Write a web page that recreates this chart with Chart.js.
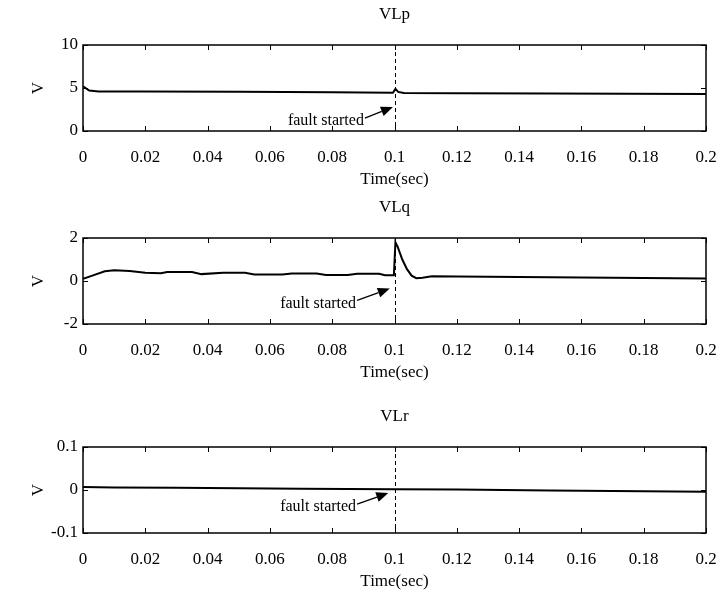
<!DOCTYPE html>
<html>
<head>
<meta charset="utf-8">
<script src="https://cdn.jsdelivr.net/npm/chart.js@4.4.1/dist/chart.umd.min.js"></script>
<style>
html, body { margin: 0; padding: 0; background: #fff; overflow: hidden; }
canvas { position: absolute; left: 0; }
</style>
</head>
<body>
<canvas id="plotP" width="723" height="193" style="top:0px"></canvas>
<canvas id="plotQ" width="723" height="209" style="top:193px"></canvas>
<canvas id="plotR" width="723" height="192" style="top:402px"></canvas>
<script>
// x axis (shared)
var xTickValues = [0, 0.02, 0.04, 0.06, 0.08, 0.1, 0.12, 0.14, 0.16, 0.18, 0.2];
var xTickLabels = ['0', '0.02', '0.04', '0.06', '0.08', '0.1', '0.12', '0.14', '0.16', '0.18', '0.2'];
var faultTime = 0.1;

// VLp
var timeP  = [0, 0.002, 0.005, 0.02, 0.05, 0.08, 0.0995, 0.1003, 0.1012, 0.103, 0.12, 0.15, 0.2];
var valueP = [5.2, 4.7, 4.6, 4.6, 4.55, 4.5, 4.45, 4.9, 4.55, 4.42, 4.4, 4.35, 4.3];
var yTicksP = [0, 5, 10];
var yLabelsP = ['0', '5', '10'];

// VLq
var timeQ  = [0, 0.003, 0.007, 0.01, 0.015, 0.02, 0.025, 0.027, 0.035, 0.038, 0.045, 0.052, 0.055, 0.064, 0.067, 0.075, 0.078, 0.085, 0.088, 0.095, 0.097, 0.0998,
              0.1003, 0.101, 0.1025, 0.104, 0.1055, 0.107, 0.109, 0.112, 0.12, 0.15, 0.2];
var valueQ = [0.1, 0.25, 0.45, 0.5, 0.47, 0.38, 0.36, 0.42, 0.42, 0.32, 0.38, 0.38, 0.3, 0.3, 0.35, 0.35, 0.28, 0.28, 0.34, 0.34, 0.27, 0.27,
              1.8, 1.6, 1.0, 0.55, 0.25, 0.13, 0.15, 0.22, 0.21, 0.18, 0.12];
var yTicksQ = [-2, 0, 2];
var yLabelsQ = ['-2', '0', '2'];

// VLr
var timeR  = [0, 0.01, 0.03, 0.05, 0.07, 0.1, 0.12, 0.15, 0.18, 0.2];
var valueR = [0.007, 0.006, 0.005, 0.004, 0.003, 0.002, 0.001, -0.001, -0.003, -0.004];
var yTicksR = [-0.1, 0, 0.1];
var yLabelsR = ['-0.1', '0', '0.1'];

var serif = '"Liberation Serif", "DejaVu Serif", serif';

// title over the plot box, box, inward ticks, fault line and the "fault started" arrow
var framePlugin = {
    id: 'frame',
    afterDatasetsDraw: function (chart, args, opts) {
        var ctx = chart.ctx;
        var a = chart.chartArea;
        var xs = chart.scales.x, ys = chart.scales.y;
        ctx.save();
        ctx.strokeStyle = '#000';
        ctx.fillStyle = '#000';

        ctx.font = '17px ' + serif;
        ctx.textAlign = 'center';
        ctx.textBaseline = 'middle';
        ctx.fillText(opts.title, (a.left + a.right) / 2, 15);

        ctx.lineWidth = 1.5;
        ctx.strokeRect(a.left, a.top, a.right - a.left, a.bottom - a.top);

        ctx.lineWidth = 1;
        ctx.beginPath();
        xs.ticks.forEach(function (t) {
            var px = Math.round(xs.getPixelForValue(t.value)) + 0.5;
            ctx.moveTo(px, a.bottom); ctx.lineTo(px, a.bottom - 5);
            ctx.moveTo(px, a.top); ctx.lineTo(px, a.top + 5);
        });
        ys.ticks.forEach(function (t) {
            var py = Math.round(ys.getPixelForValue(t.value)) + 0.5;
            ctx.moveTo(a.left, py); ctx.lineTo(a.left + 5, py);
            ctx.moveTo(a.right, py); ctx.lineTo(a.right - 5, py);
        });
        ctx.stroke();

        var fx = Math.round(xs.getPixelForValue(faultTime)) + 0.5;
        ctx.setLineDash([4, 3]);
        ctx.beginPath();
        ctx.moveTo(fx, a.top);
        ctx.lineTo(fx, a.bottom);
        ctx.stroke();
        ctx.setLineDash([]);

        var note = opts.note;
        var tx = xs.getPixelForValue(note.tip[0]), ty = ys.getPixelForValue(note.tip[1]);
        var sx = xs.getPixelForValue(note.tail[0]), sy = ys.getPixelForValue(note.tail[1]);
        var ang = Math.atan2(ty - sy, tx - sx);
        var hl = 12, hw = 5;
        var bx = tx - hl * Math.cos(ang), by = ty - hl * Math.sin(ang);
        ctx.lineWidth = 1.3;
        ctx.beginPath();
        ctx.moveTo(sx, sy);
        ctx.lineTo(bx, by);
        ctx.stroke();
        ctx.beginPath();
        ctx.moveTo(tx, ty);
        ctx.lineTo(bx + hw * Math.sin(ang), by - hw * Math.cos(ang));
        ctx.lineTo(bx - hw * Math.sin(ang), by + hw * Math.cos(ang));
        ctx.closePath();
        ctx.fill();

        ctx.font = '16px ' + serif;
        ctx.textAlign = 'right';
        ctx.textBaseline = 'middle';
        ctx.fillText('fault started', sx - 1, sy + 3);
        ctx.restore();
    }
};

function makePlot(canvasId, title, times, values, yTicks, yLabels, note) {
    var h = document.getElementById(canvasId).height;
    var pts = times.map(function (t, i) { return { x: t, y: values[i] }; });
    return new Chart(document.getElementById(canvasId).getContext('2d'), {
        type: 'line',
        data: {
            datasets: [{
                data: pts,
                borderColor: '#000',
                borderWidth: 2,
                pointRadius: 0,
                tension: 0,
                fill: false
            }]
        },
        plugins: [framePlugin],
        options: {
            responsive: false,
            animation: false,
            events: [],
            layout: { padding: { left: 0, right: 17, top: 45, bottom: 0 } },
            plugins: {
                legend: { display: false },
                tooltip: { enabled: false },
                title: { display: false },
                frame: { note: note, title: title }
            },
            scales: {
                x: {
                    type: 'linear',
                    min: 0,
                    max: 0.2,
                    grid: { display: false, drawTicks: false },
                    border: { display: false },
                    afterBuildTicks: function (s) {
                        s.ticks = xTickValues.map(function (v) { return { value: v }; });
                    },
                    afterFit: function (s) {
                        s.height = h - 131;
                        s.paddingLeft = 0;
                        s.paddingRight = 0;
                    },
                    ticks: {
                        color: '#000',
                        padding: 16,
                        maxRotation: 0,
                        autoSkip: false,
                        font: { family: serif, size: 17 },
                        callback: function (v, i) { return xTickLabels[i]; }
                    },
                    title: {
                        display: true,
                        text: 'Time(sec)',
                        color: '#000',
                        font: { family: serif, size: 17 },
                        padding: { top: 0, bottom: h - 190 }
                    }
                },
                y: {
                    type: 'linear',
                    min: yTicks[0],
                    max: yTicks[yTicks.length - 1],
                    grid: { display: false, drawTicks: false },
                    border: { display: false },
                    afterBuildTicks: function (s) {
                        s.ticks = yTicks.map(function (v) { return { value: v }; });
                    },
                    afterFit: function (s) { s.width = 83; },
                    ticks: {
                        color: '#000',
                        padding: 5,
                        font: { family: serif, size: 17 },
                        callback: function (v, i) { return yLabels[i]; }
                    },
                    title: {
                        display: true,
                        text: 'V',
                        color: '#000',
                        font: { family: serif, size: 17 },
                        padding: { top: 28, bottom: 0 }
                    }
                }
            }
        }
    });
}

makePlot('plotP', 'VLp', timeP, valueP, yTicksP, yLabelsP, { tip: [0.0995, 2.8], tail: [0.0905, 1.5] });
makePlot('plotQ', 'VLq', timeQ, valueQ, yTicksQ, yLabelsQ, { tip: [0.0985, -0.35], tail: [0.088, -0.9] });
makePlot('plotR', 'VLr', timeR, valueR, yTicksR, yLabelsR, { tip: [0.098, -0.007], tail: [0.088, -0.033] });
</script>
</body>
</html>
